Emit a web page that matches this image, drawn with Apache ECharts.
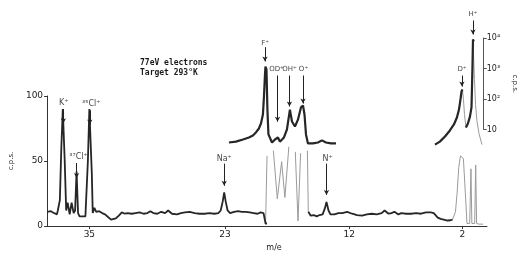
<!DOCTYPE html>
<html>
<head>
<meta charset="utf-8">
<script src="https://cdn.jsdelivr.net/npm/echarts@6/dist/echarts.min.js"></script>
<style>
html, body { margin: 0; padding: 0; background: #fff; }
#chart { width: 526px; height: 257px; }
</style>
</head>
<body>
<div id="chart"></div>
<script>
// linear trace (c.p.s. against m/e)
const leftTraceM = [38.74, 38.57, 38.40, 38.22, 38.05, 37.87, 37.79, 37.70, 37.61, 37.48, 37.35, 37.26, 37.18, 37.05,
    36.92, 36.74, 36.57, 36.39, 36.26, 36.13, 36.00, 35.87, 35.61, 35.35, 35.22, 35.13, 35.00, 34.87, 34.78, 34.70,
    34.56, 34.39, 34.13, 33.87, 33.61, 33.35, 33.08, 32.91, 32.65, 32.39, 32.13, 31.87, 31.60, 31.26, 30.91, 30.56,
    30.21, 29.86, 29.60, 29.34, 28.99, 28.64, 28.30, 28.03, 27.69, 27.25, 26.90, 26.55, 26.12, 25.68, 25.25, 24.81,
    24.38, 23.94, 23.59, 23.38, 23.20, 23.07, 22.94, 22.77, 22.55, 22.20, 21.85, 21.50, 21.16, 20.81, 20.46, 20.11,
    19.85, 19.59, 19.41, 19.28];
const leftTraceV = [11, 10.5, 11.5, 10.5, 10, 9, 12, 13, 20, 60, 90, 90, 50, 12,
    18, 9, 18, 10, 12, 42, 10, 7.5, 7.5, 7.5, 9, 50, 90, 89, 40, 10,
    14, 11, 11.5, 10, 9, 7, 5, 4.5, 6, 8, 10.5, 9.5, 10, 9.5, 10, 10.5,
    9.5, 10, 11.5, 10, 9.5, 11, 10, 12, 9.5, 9, 10, 10.5, 11, 10, 9.5, 9.5,
    10, 9.5, 10, 12, 19, 26, 19, 12, 10, 11, 11.5, 11, 11, 10.5, 10, 9.5,
    10.5, 10, 2, 2];

const rightTraceM = [15.63, 15.41, 15.15, 14.89, 14.63, 14.36, 14.15, 14.02, 13.84, 13.67, 13.32, 12.97, 12.62, 12.19,
    11.75, 11.32, 10.88, 10.45, 10.01, 9.58, 9.14, 8.88, 8.53, 8.27, 8.01, 7.66, 7.40, 6.96, 6.53, 6.09, 5.66, 5.22,
    4.79, 4.53, 4.18, 3.92, 3.66, 3.31, 3.05, 2.87];
const rightTraceV = [11, 8, 8.5, 7.5, 8.5, 9, 14, 18.5, 12, 9, 9, 10, 10, 11,
    9.5, 8.5, 8, 9, 9.5, 9, 10, 12, 9.5, 10, 11, 9, 10, 9.5, 9.5, 10, 9.5, 10.5,
    10.5, 10, 6.5, 5.5, 5, 4.3, 4.5, 5];

// off-scale pen strokes (faint) in the F/OD/OH/O region, null = pen lifted off scale
const offScaleM = [19.41, 19.28, 19.28, null, 18.72, 18.37, 17.99, 17.70, 17.35, null, 16.78, 16.54, 16.31, null, 15.71, 15.63];
const offScaleV = [2, 2, 54, null, 58, 21, 49.5, 22, 61, null, 57, 4, 56, null, 58, 11];

// D+ and H+ peaks on the linear scale (faint)
const hydrogenM = [2.87, 2.61, 2.46, 2.32, 2.17, 2.04, 1.91, 1.74, 1.59, 1.35, 1.24, 1.16, 0.91, 0.82, 0.74, 0.52, 0.17];
const hydrogenV = [5, 11, 26, 45, 54, 55, 52, 26, 2, 2, 44, 2, 2, 47, 2, 1.5, 1.5];

// log-scale insets
const fInsetM = [22.29, 21.68, 21.07, 20.55, 20.20, 19.94, 19.68, 19.50, 19.33, 19.24, 19.15, 19.11, 19.02, 18.94, 18.85,
    18.54, 18.28, 18.02, 17.85, 17.50, 17.24, 16.98, 16.80, 16.54, 16.28, 16.02, 15.84, 15.71, 15.58, 15.41,
    14.97, 14.54, 14.19, 13.84, 13.41, 12.97];
const fInsetV = [3.75, 4.0, 4.7, 5.5, 6.4, 8.0, 10.8, 15.7, 31, 120, 640, 1160, 930, 45, 6.9,
    3.75, 4.7, 5.5, 4.0, 5.5, 10, 45, 18.3, 12.5, 21, 53, 61, 31, 6.9, 3.5,
    3.5, 3.75, 4.4, 3.75, 3.5, 3.5];

const dhInsetM = [4.35, 3.92, 3.48, 3.05, 2.70, 2.44, 2.26, 2.13, 2.04, 1.96, 1.87, 1.78, 1.65, 1.48, 1.30, 1.17,
    1.09, 1.04, 0.97, 0.91, 0.82, 0.69, 0.52, 0.26];
const dhInsetV = [3.2, 4.0, 5.9, 9.3, 14.6, 24.7, 45, 96, 176, 205, 96, 31, 11.6, 15.7, 27, 53,
    930, 8900, 7700, 436, 66, 18.3, 7.4, 3.2];
// which inset points are drawn with the heavy pen
const dhHeavy = [1, 1, 1, 1, 1, 1, 1, 1, 1, 1, 0, 0, 1, 1, 1, 1, 1, 1, 1, 0, 0, 0, 0, 0];

// axis ticks
const massTicks = [35, 23, 12, 2];
const logTicks = { 10: '10', 100: '10²', 1000: '10³', 10000: '10⁴' };

// peak labels on the linear scale: name, m/e, c.p.s., arrow from/to
const linNames = ['K⁺', '³⁷Cl⁺', '³⁵Cl⁺', 'Na⁺', 'N⁺'];
const linLabelM = [37.26, 35.96, 34.83, 23.07, 13.93];
const linLabelV = [95, 53, 94, 52, 52];
const linArrowM = [37.30, 36.13, 34.96, 23.07, 14.02];
const linArrowFrom = [90, 48.5, 89, 48, 48];
const linArrowTo = [79, 37, 78, 31, 24];

// peak labels on the log scale
const logNames = ['F⁺', 'OD⁺', 'OH⁺', 'O⁺', 'D⁺', 'H⁺'];
const logLabelM = [19.15, 18.15, 17.02, 15.80, 2.00, 1.04];
const logLabelV = [7000, 927, 927, 927, 927, 59000];
const logArrowM = [19.15, 18.06, 17.02, 15.84, 2.00, 1.04];
const logArrowFrom = [5000, 590, 590, 590, 590, 37500];
const logArrowTo = [1700, 18, 57, 71, 256, 13000];

const zip = (a, b) => a.map((m, i) => [m, b[i]]);
const arrows = (m, a, b) => m.map((x, i) => [{ coord: [x, a[i]] }, { coord: [x, b[i]] }]);
const labels = (n, m, v) => n.map((name, i) => ({ name: name, value: [m[i], v[i]] }));

const ink = '#262626';
const faint = '#9a9a9a';
const labelFont = { fontFamily: 'DejaVu Sans', fontSize: 8, color: '#111' };
const axisInk = { color: '#333', width: 1 };

let myChart = echarts.init(document.getElementById('chart'));

let option = {
    animation: false,
    backgroundColor: '#fff',
    grid: [
        { left: 40, right: 39, top: 96, height: 140 },
        { left: 40, right: 39, top: 7.5, height: 152.5 },
        { left: 40, right: 33, top: 38, height: 91.5 }
    ],
    xAxis: [
        {
            gridIndex: 0, type: 'value', inverse: true, min: -0.18, max: 38.74,
            name: 'm/e', nameLocation: 'middle', nameGap: 13,
            nameTextStyle: { fontFamily: 'DejaVu Sans', fontSize: 8, color: '#222', padding: [0, 0, 0, 14] },
            axisLine: { onZero: false, lineStyle: axisInk },
            axisTick: { customValues: massTicks, length: 3, lineStyle: { color: '#333' } },
            axisLabel: { customValues: massTicks, fontFamily: 'DejaVu Sans', fontSize: 9, color: '#222', margin: 4 },
            splitLine: { show: false }
        },
        { gridIndex: 1, type: 'value', inverse: true, min: -0.18, max: 38.74, show: false },
        { gridIndex: 2, type: 'value', min: 0, max: 1, show: false }
    ],
    yAxis: [
        {
            gridIndex: 0, type: 'value', min: 0, max: 100, interval: 50, position: 'left',
            name: 'c.p.s.', nameLocation: 'middle', nameGap: 27,
            nameTextStyle: { fontFamily: 'DejaVu Sans', fontSize: 7, color: '#222' },
            axisLine: { show: true, onZero: false, lineStyle: axisInk },
            axisTick: { show: true, length: 3, lineStyle: { color: '#333' } },
            axisLabel: { fontFamily: 'DejaVu Sans', fontSize: 9, color: '#222', margin: 4 },
            splitLine: { show: false }
        },
        { gridIndex: 1, type: 'log', logBase: 10, min: 1, max: 100000, show: false },
        {
            gridIndex: 2, type: 'log', logBase: 10, min: 10, max: 10000, position: 'right',
            name: 'c.p.s.', nameLocation: 'middle', nameGap: 27, nameRotate: -90,
            nameTextStyle: { fontFamily: 'DejaVu Sans', fontSize: 7, color: '#222' },
            axisLine: { show: true, onZero: false, lineStyle: { color: '#555', width: 1 } },
            axisTick: { show: true, length: 3, lineStyle: { color: '#555' } },
            axisLabel: { formatter: v => logTicks[Math.round(v)] || '', fontFamily: 'DejaVu Sans', fontSize: 8, color: '#222', margin: 3 },
            splitLine: { show: false }
        }
    ],
    graphic: [
        { type: 'text', left: 140, top: 59, style: { text: '77eV electrons', font: 'bold 8px "DejaVu Sans Mono"', fill: '#1a1a1a' } },
        { type: 'text', left: 140, top: 69, style: { text: 'Target 293°K', font: 'bold 8px "DejaVu Sans Mono"', fill: '#1a1a1a' } }
    ],
    series: [
        {
            type: 'line', xAxisIndex: 0, yAxisIndex: 0, showSymbol: false, clip: false,
            lineStyle: { color: faint, width: 1 }, data: zip(offScaleM, offScaleV)
        },
        {
            type: 'line', xAxisIndex: 0, yAxisIndex: 0, showSymbol: false,
            lineStyle: { color: faint, width: 1 }, data: zip(hydrogenM, hydrogenV)
        },
        {
            type: 'line', xAxisIndex: 0, yAxisIndex: 0, showSymbol: false, clip: false,
            lineStyle: { color: ink, width: 1.8 }, data: zip(leftTraceM, leftTraceV),
            markLine: {
                silent: true, symbol: ['none', 'arrow'], symbolSize: [4, 5],
                lineStyle: { color: '#222', width: 1, type: 'solid' }, label: { show: false },
                data: arrows(linArrowM, linArrowFrom, linArrowTo)
            }
        },
        {
            type: 'line', xAxisIndex: 0, yAxisIndex: 0, showSymbol: false,
            lineStyle: { color: ink, width: 1.8 }, data: zip(rightTraceM, rightTraceV)
        },
        {
            type: 'scatter', xAxisIndex: 0, yAxisIndex: 0, symbolSize: 1, clip: false,
            itemStyle: { color: 'transparent' },
            label: Object.assign({ show: true, position: 'inside', formatter: '{b}' }, labelFont),
            data: labels(linNames, linLabelM, linLabelV)
        },
        {
            type: 'line', xAxisIndex: 1, yAxisIndex: 1, showSymbol: false,
            lineStyle: { color: ink, width: 2.2 }, data: zip(fInsetM, fInsetV),
            markLine: {
                silent: true, symbol: ['none', 'arrow'], symbolSize: [4, 5],
                lineStyle: { color: '#222', width: 1, type: 'solid' }, label: { show: false },
                data: arrows(logArrowM, logArrowFrom, logArrowTo)
            }
        },
        {
            type: 'line', xAxisIndex: 1, yAxisIndex: 1, showSymbol: false,
            lineStyle: { color: faint, width: 1 }, data: zip(dhInsetM, dhInsetV)
        },
        {
            type: 'line', xAxisIndex: 1, yAxisIndex: 1, showSymbol: false,
            lineStyle: { color: ink, width: 2.2 },
            data: zip(dhInsetM, dhInsetV).map((p, i) => dhHeavy[i] ? p : [p[0], null])
        },
        {
            type: 'scatter', xAxisIndex: 1, yAxisIndex: 1, symbolSize: 1, clip: false,
            itemStyle: { color: 'transparent' },
            label: Object.assign({ show: true, position: 'inside', formatter: '{b}' }, labelFont, { fontSize: 7 }),
            data: labels(logNames, logLabelM, logLabelV)
        }
    ]
};

option && myChart.setOption(option);
</script>
</body>
</html>
